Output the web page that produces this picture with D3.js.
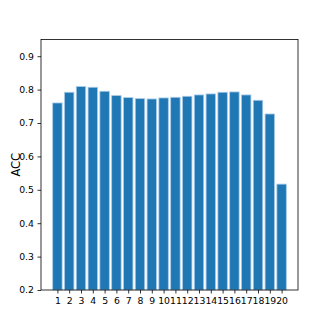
<!DOCTYPE html>
<html><head><meta charset="utf-8">
<script src="https://cdn.jsdelivr.net/npm/d3@7"></script>
<style>body{margin:0;background:#fff}svg{display:block}</style>
</head><body>
<script>
const categories = d3.range(1, 21);
const accValues = [0.760, 0.792, 0.809, 0.807, 0.795, 0.782, 0.776, 0.773, 0.772, 0.775,
                   0.777, 0.780, 0.784, 0.787, 0.792, 0.793, 0.784, 0.768, 0.727, 0.517];
const yTicks = [0.2, 0.3, 0.4, 0.5, 0.6, 0.7, 0.8, 0.9];
const yLabel = "ACC";

const W = 332, H = 332;
const m = {left: 41, right: 298, top: 39.5, bottom: 290};
const svg = d3.select("body").append("svg").attr("width", W).attr("height", H);

const x = d3.scaleLinear().domain([-0.39, 21.39]).range([m.left, m.right]);
const y = d3.scaleLinear().domain([0.2, 0.95]).range([m.bottom, m.top]);
const bw = 0.8;

svg.append("g").selectAll("rect").data(categories).enter().append("rect")
  .attr("x", (d) => x(d - bw/2))
  .attr("width", x(bw) - x(0))
  .attr("y", (d, i) => y(accValues[i]))
  .attr("height", (d, i) => y(0.2) - y(accValues[i]))
  .attr("fill", "#1f77b4")
  .attr("stroke", "#a8cbe8").attr("stroke-width", 0.8);

const font = "DejaVu Sans";
const xAxis = d3.axisBottom(x).tickValues(categories).tickFormat(d3.format("d")).tickSize(3.5).tickPadding(3.5);
const gx = svg.append("g").attr("transform", `translate(0,${m.bottom})`).call(xAxis);
const yAxis = d3.axisLeft(y).tickValues(yTicks).tickFormat(d3.format(".1f")).tickSize(3.5).tickPadding(3.5);
const gy = svg.append("g").attr("transform", `translate(${m.left},0)`).call(yAxis);
[gx, gy].forEach(g => {
  g.select(".domain").remove();
  g.selectAll("line").attr("stroke", "#000").attr("stroke-width", 0.8);
  g.selectAll("text").attr("font-family", font).attr("font-size", 9.3).attr("fill", "#000");
});

svg.append("rect").attr("x", m.left).attr("y", m.top)
  .attr("width", m.right - m.left).attr("height", m.bottom - m.top)
  .attr("fill", "none").attr("stroke", "#000").attr("stroke-width", 0.8);

svg.append("text").attr("transform", `translate(16,${(m.top + m.bottom)/2}) rotate(-90)`)
  .attr("text-anchor", "middle").attr("dominant-baseline", "central")
  .attr("font-family", font).attr("font-size", 11.5).attr("fill", "#000").text(yLabel);
</script>
</body></html>
